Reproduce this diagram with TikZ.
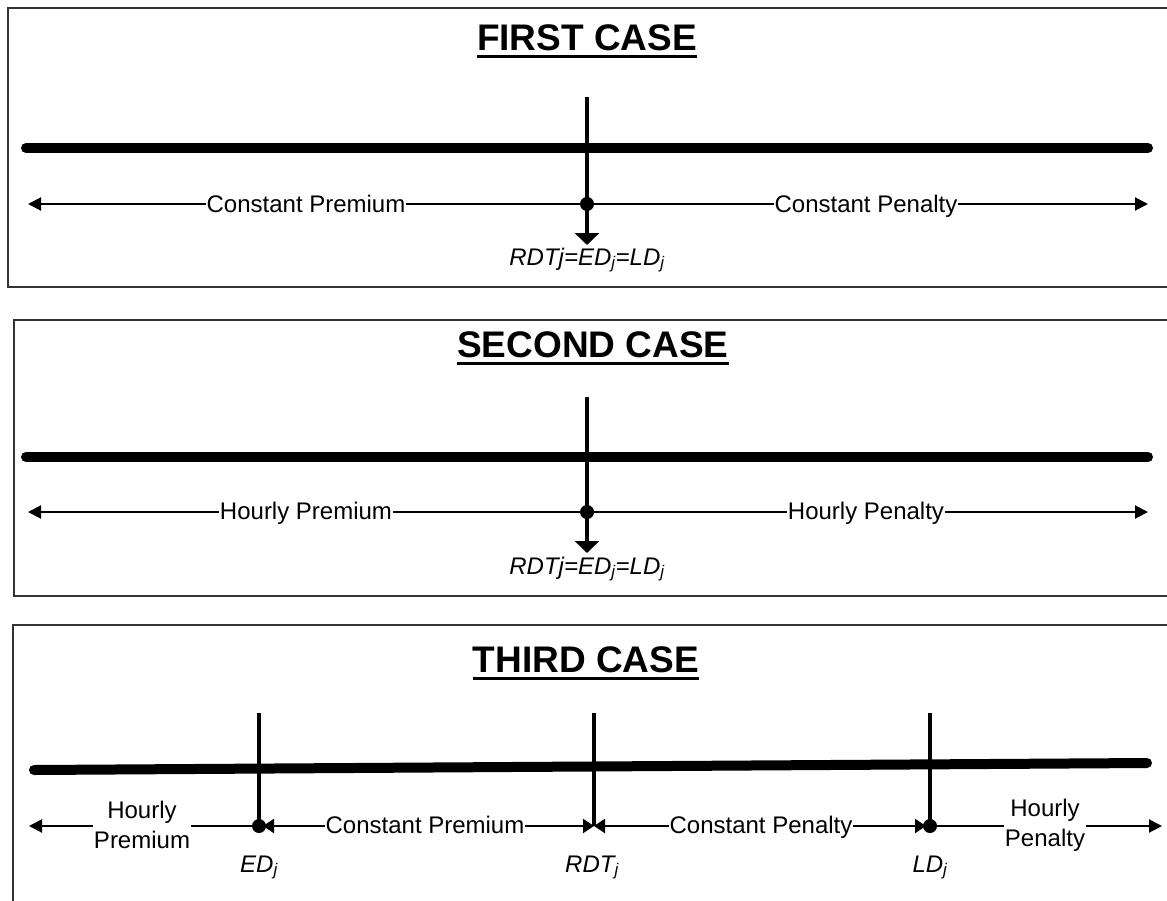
\documentclass[tikz,border=0pt]{standalone}
\usepackage{fontspec}
\setmainfont{Liberation Sans}
\usetikzlibrary{arrows.meta}
\begin{document}
\begin{tikzpicture}[x=1pt,y=-1pt,
  frame/.style={draw=black!80, line width=2pt},
  timeline/.style={line width=10pt, line cap=round},
  marker/.style={line width=4pt},
  downarrow/.style={marker, -{Triangle[length=12pt,width=24pt]}},
  span/.style={line width=2pt},
  endarrow/.style={span, -{Triangle[length=13pt,width=13pt]}},
  botharrow/.style={span, {Triangle[length=11pt,width=14pt]}-{Triangle[length=11pt,width=14pt]}},
  dot/.style={circle, fill=black, inner sep=0pt, minimum size=14pt},
  title/.style={font=\fontsize{37}{40}\selectfont\bfseries, inner sep=0pt, anchor=base},
  lab/.style={font=\fontsize{24}{30}\selectfont, fill=white, inner sep=1pt, anchor=base},
  lab2/.style={font=\fontsize{24}{30}\selectfont, fill=white, inner sep=1pt, align=center},
  ital/.style={font=\fontsize{24}{26}\selectfont\itshape, inner sep=0pt, anchor=base},
  uline/.style={line width=3pt}
]
\clip (0,0) rectangle (1167,900);
\fill[white] (0,0) rectangle (1167,900);

% frames
\draw[frame] (8,8) rectangle (1185,287);
\draw[frame] (14,320) rectangle (1185,596);
\draw[frame] (13,625) rectangle (1185,930);

% ---------------- FIRST CASE ----------------
\node[title] (t1) at (587,50) {FIRST CASE};
\draw[uline] ([yshift=-6pt]t1.base west) -- ([yshift=-6pt]t1.base east);
\coordinate (a1) at (26,148);
\coordinate (b1) at (1148,148);
\draw[timeline] (a1) -- (b1);
\coordinate (v1top) at (587,97);
\coordinate (v1bot) at (587,245);
\draw[downarrow] (v1top) -- (v1bot);
\node[dot] (d1) at (587,204) {};
\coordinate (l1) at (28,204);
\coordinate (r1) at (1148,204);
\draw[endarrow] (d1) -- (l1);
\draw[endarrow] (d1) -- (r1);
\node[lab] (p1) at (306,212) {Constant Premium};
\node[lab] (q1) at (866,212) {Constant Penalty};
\node[ital] (e1) at (587,265) {RDTj=ED\textsubscript{j}=LD\textsubscript{j}};

% ---------------- SECOND CASE ----------------
\node[title] (t2) at (593,357) {SECOND CASE};
\draw[uline] ([yshift=-6pt]t2.base west) -- ([yshift=-6pt]t2.base east);
\coordinate (a2) at (26,457);
\coordinate (b2) at (1148,457);
\draw[timeline] (a2) -- (b2);
\coordinate (v2top) at (587,397);
\coordinate (v2bot) at (587,553);
\draw[downarrow] (v2top) -- (v2bot);
\node[dot] (d2) at (587,512) {};
\coordinate (l2) at (28,512);
\coordinate (r2) at (1148,512);
\draw[endarrow] (d2) -- (l2);
\draw[endarrow] (d2) -- (r2);
\node[lab] (p2) at (306,519) {Hourly Premium};
\node[lab] (q2) at (866,519) {Hourly Penalty};
\node[ital] (e2) at (587,574) {RDTj=ED\textsubscript{j}=LD\textsubscript{j}};

% ---------------- THIRD CASE ----------------
\node[title] (t3) at (586,672) {THIRD CASE};
\draw[uline] ([yshift=-6pt]t3.base west) -- ([yshift=-6pt]t3.base east);
\coordinate (a3) at (34,770);
\coordinate (b3) at (1147,763);
\draw[timeline] (a3) -- (b3);
\coordinate (edtop) at (259,713);
\coordinate (ed) at (259,826);
\coordinate (rdttop) at (594,713);
\coordinate (rdt) at (594,826);
\coordinate (ldtop) at (930,713);
\coordinate (ld) at (930,826);
\coordinate (l3) at (29,826);
\coordinate (r3) at (1162,826);
\draw[marker] (edtop) -- (ed);
\draw[marker] (rdttop) -- (rdt);
\draw[marker] (ldtop) -- (ld);
\draw[botharrow] ([xshift=4pt]ed) -- (rdt);
\draw[botharrow] (rdt) -- ([xshift=-4pt]ld);
\node[dot] (ded) at (ed) {};
\node[dot] (dld) at (ld) {};
\draw[endarrow] (ded) -- (l3);
\draw[endarrow] (dld) -- (r3);
\node[lab2] (p3) at (142,825) {Hourly\\Premium};
\node[lab] (cp3) at (425,833) {Constant Premium};
\node[lab] (cq3) at (761,833) {Constant Penalty};
\node[lab2] (q3) at (1045,825) {Hourly\\Penalty};
\node[ital] (ledj) at (259,872) {ED\textsubscript{j}};
\node[ital] (lrdt) at (592,872) {RDT\textsubscript{j}};
\node[ital] (lldj) at (930,872) {LD\textsubscript{j}};
\end{tikzpicture}
\end{document}
